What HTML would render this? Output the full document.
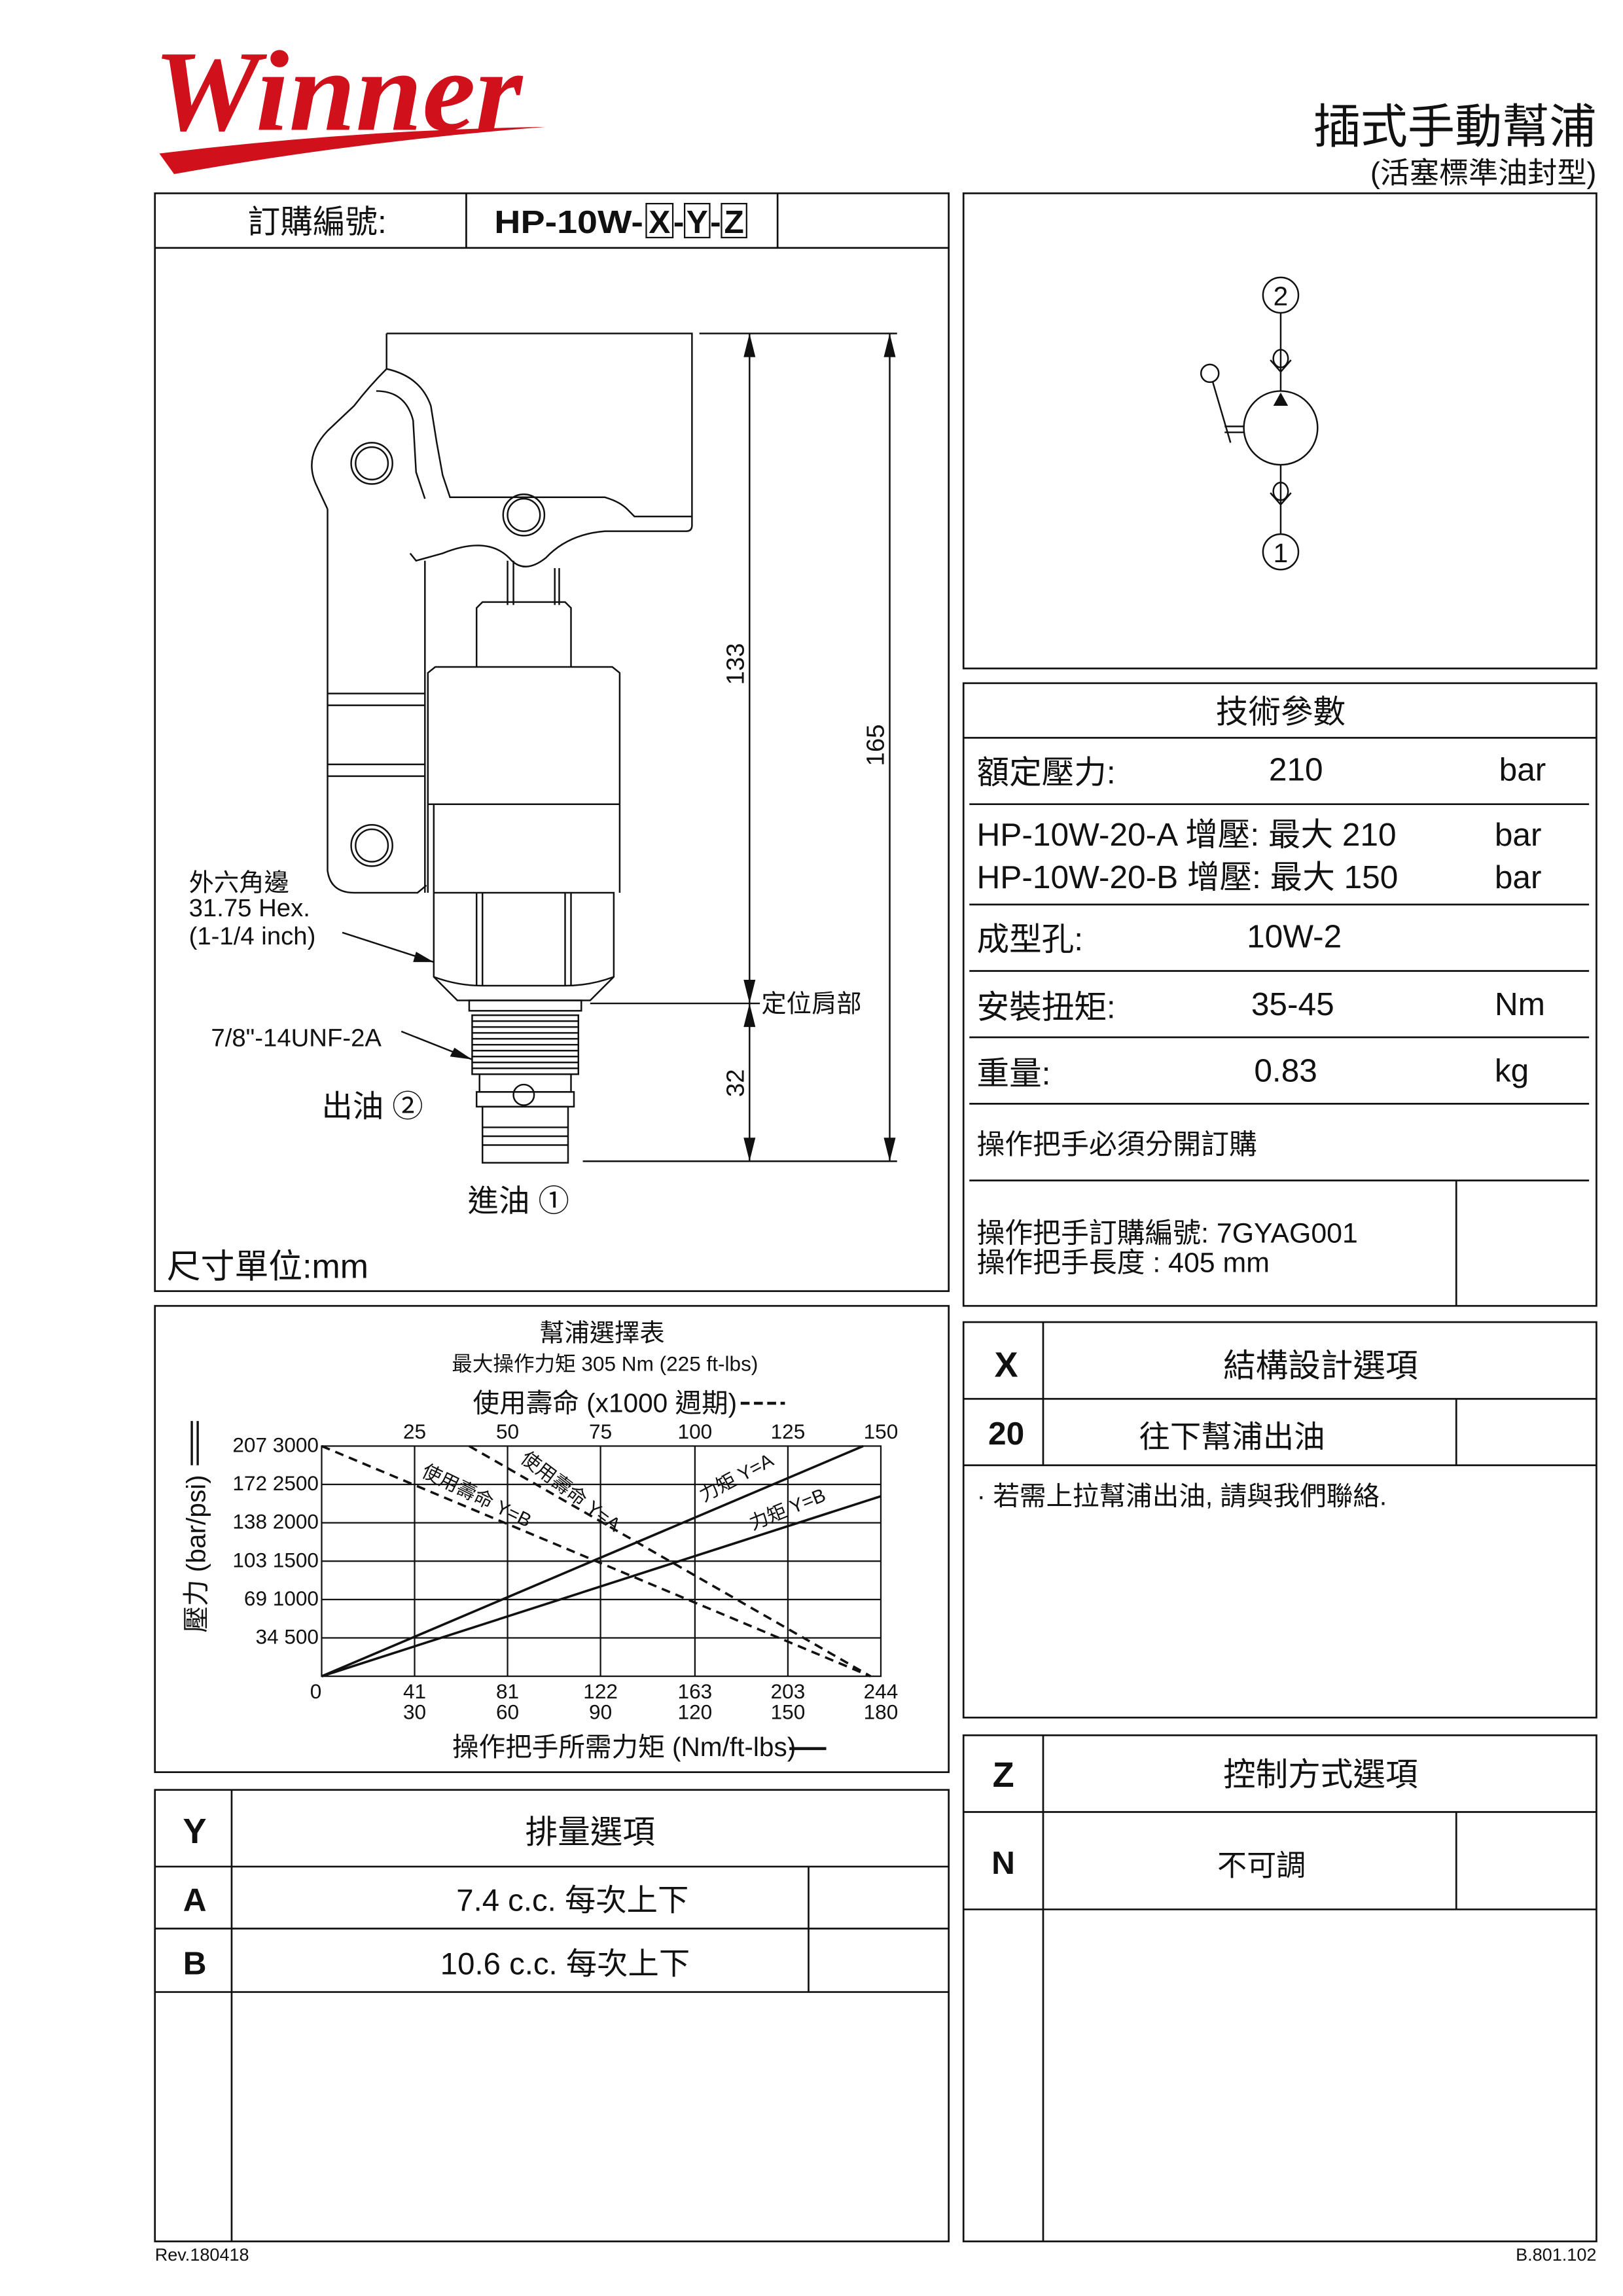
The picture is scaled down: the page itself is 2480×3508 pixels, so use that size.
<!DOCTYPE html>
<html><head><meta charset="utf-8"><style>
html,body{margin:0;padding:0;background:#fff}
svg{display:block}
text{font-family:"Liberation Sans","Noto Sans CJK TC",sans-serif;fill:#111}
</style></head><body>
<svg width="2480" height="3508" viewBox="0 0 1100 1556" preserveAspectRatio="none" xmlns="http://www.w3.org/2000/svg">
<!-- Logo -->
<text x="104" y="88" style="font-family:'Liberation Serif',serif;font-style:italic;font-weight:bold;fill:#d0101b" font-size="78" textLength="250" lengthAdjust="spacingAndGlyphs">Winner</text>
<path d="M108,104 Q240,88 370,86 Q240,96 118,118 Z" fill="#d0101b"/>
<!-- Title -->
<text x="1082" y="97" text-anchor="end" font-size="32">插式手動幫浦</text>
<text x="1082" y="124" text-anchor="end" font-size="20">(活塞標準油封型)</text>

<g fill="none" stroke="#111" stroke-width="1.2">
<rect x="105" y="131" width="538" height="744"/>
<line x1="105" y1="168" x2="643" y2="168"/>
<line x1="316" y1="131" x2="316" y2="168"/>
<line x1="527" y1="131" x2="527" y2="168"/>
<rect x="653" y="131" width="429" height="322"/>
<rect x="653" y="463" width="429" height="422"/>
<line x1="653" y1="500" x2="1082" y2="500"/>
<line x1="657" y1="545" x2="1077" y2="545"/>
<line x1="657" y1="613" x2="1077" y2="613"/>
<line x1="657" y1="658" x2="1077" y2="658"/>
<line x1="657" y1="703" x2="1077" y2="703"/>
<line x1="657" y1="748" x2="1077" y2="748"/>
<line x1="657" y1="800" x2="1077" y2="800"/>
<line x1="987" y1="800" x2="987" y2="885"/>
<rect x="653" y="896" width="429" height="268"/>
<line x1="653" y1="948" x2="1082" y2="948"/>
<line x1="653" y1="993" x2="1082" y2="993"/>
<line x1="707" y1="896" x2="707" y2="993"/>
<line x1="987" y1="948" x2="987" y2="993"/>
<rect x="653" y="1176" width="429" height="343"/>
<line x1="653" y1="1228" x2="1082" y2="1228"/>
<line x1="653" y1="1294" x2="1082" y2="1294"/>
<line x1="707" y1="1176" x2="707" y2="1519"/>
<line x1="987" y1="1228" x2="987" y2="1294"/>
<rect x="105" y="885" width="538" height="316"/>
<rect x="105" y="1213" width="538" height="306"/>
<line x1="105" y1="1265" x2="643" y2="1265"/>
<line x1="105" y1="1307" x2="643" y2="1307"/>
<line x1="105" y1="1350" x2="643" y2="1350"/>
<line x1="157" y1="1213" x2="157" y2="1519"/>
<line x1="548" y1="1265" x2="548" y2="1350"/>
</g>

<text x="215" y="158" text-anchor="middle" font-size="22">訂購編號:</text>
<g font-size="22" font-weight="bold">
<text x="335" y="158" textLength="101" lengthAdjust="spacingAndGlyphs">HP-10W-</text>
<text x="447" y="158" text-anchor="middle">X</text>
<text x="460" y="158" text-anchor="middle">-</text>
<text x="472.5" y="158" text-anchor="middle">Y</text>
<text x="485" y="158" text-anchor="middle">-</text>
<text x="497.5" y="158" text-anchor="middle">Z</text>
</g>
<g fill="none" stroke="#111" stroke-width="1"><rect x="438" y="138" width="18" height="23"/><rect x="464" y="138" width="17" height="23"/><rect x="489" y="138" width="17" height="23"/></g>

<!-- Drawing -->
<g fill="none" stroke="#111" stroke-width="1.1">
<path d="M262,226 L469,226 L469,356 Q469,360 465,360 L410,360 Q385,362 370,378 Q355,390 345,378 Q330,363 300,375 L282,380 L278,375"/>
<path d="M262,226 L262,250 Q250,262 240,275 L222,292 Q205,310 215,330 L222,345"/>
<path d="M262,250 Q285,255 292,275 L296,300 L300,322 L305,337 L350,337 L410,337 Q420,340 425,345 L430,350 L469,350"/>
<path d="M255,265 Q275,265 280,285 L282,320 L288,338"/>
<path d="M222,345 L222,590 Q224,605 240,605 L283,605 L289,600"/>
<line x1="222" y1="470" x2="288" y2="470"/>
<line x1="222" y1="478" x2="288" y2="478"/>
<line x1="222" y1="518" x2="288" y2="518"/>
<line x1="222" y1="526" x2="288" y2="526"/>
<line x1="288" y1="380" x2="288" y2="605"/>
<circle cx="252" cy="314" r="14"/><circle cx="252" cy="314" r="11"/>
<circle cx="252" cy="573" r="14"/><circle cx="252" cy="573" r="11"/>
<circle cx="355" cy="349" r="14"/><circle cx="355" cy="349" r="11"/>
<line x1="344" y1="380" x2="344" y2="410"/><line x1="348" y1="380" x2="348" y2="410"/>
<line x1="376" y1="385" x2="376" y2="410"/><line x1="379" y1="385" x2="379" y2="410"/>
<path d="M323,452 L323,412 L327,408 L383,408 L387,412 L387,452"/>
<path d="M290,605 L290,456 L295,452 L415,452 L420,456 L420,605"/>
<line x1="290" y1="545" x2="420" y2="545"/>
<line x1="294" y1="545" x2="294" y2="605"/>
<path d="M294,605 L416,605 L416,662 L400,678 L310,678 L294,662 Z"/>
<line x1="323" y1="605" x2="323" y2="668"/><line x1="327" y1="605" x2="327" y2="668"/>
<line x1="383" y1="605" x2="383" y2="668"/><line x1="387" y1="605" x2="387" y2="668"/>
<path d="M294,662 Q310,668 327,668 L383,668 Q400,668 416,662"/>
<rect x="318" y="678" width="76" height="7"/>
<path d="M320,688 L392,688 L392,728 L320,728 Z"/>
<path d="M320,692h72M320,696h72M320,700h72M320,704h72M320,708h72M320,712h72M320,716h72M320,720h72M320,724h72"/>
<rect x="325" y="728" width="62" height="12"/>
<rect x="323" y="740" width="66" height="10"/>
<circle cx="355" cy="742" r="7"/>
<rect x="327" y="750" width="58" height="38"/>
<path d="M327,764h58M327,770h58M327,776h58"/>
<line x1="474" y1="226" x2="608" y2="226"/>
<line x1="395" y1="787" x2="608" y2="787"/>
<line x1="400" y1="680" x2="515" y2="680"/>
<line x1="508" y1="226" x2="508" y2="787"/>
<line x1="603" y1="226" x2="603" y2="787"/>
<line x1="232" y1="632" x2="294" y2="652"/>
<line x1="272" y1="699" x2="320" y2="718"/>
</g>
<g fill="#111">
<path d="M508,226 l-4,16 h8z"/><path d="M508,680 l-4,-16 h8z"/><path d="M508,680 l-4,16 h8z"/><path d="M508,787 l-4,-16 h8z"/>
<path d="M603,226 l-4,16 h8z"/><path d="M603,787 l-4,-16 h8z"/>
<path d="M294,652 l-12,-7 l-2,7z"/><path d="M320,718 l-12,-8 l-3,6z"/>
</g>
<text transform="translate(504,450) rotate(-90)" text-anchor="middle" font-size="17">133</text>
<text transform="translate(599,505) rotate(-90)" text-anchor="middle" font-size="17">165</text>
<text transform="translate(504,734) rotate(-90)" text-anchor="middle" font-size="17">32</text>
<text x="516" y="686" font-size="17">定位肩部</text>
<text x="128" y="604" font-size="17">外六角邊</text>
<text x="128" y="621" font-size="17">31.75 Hex.</text>
<text x="128" y="640" font-size="17">(1-1/4 inch)</text>
<text x="143" y="709" font-size="17">7/8"-14UNF-2A</text>
<text x="218" y="757" font-size="21">出油 ②</text>
<text x="317" y="821" font-size="21">進油 ①</text>
<text x="113" y="866" font-size="23">尺寸單位:mm</text>

<!-- Symbol -->
<g fill="none" stroke="#111" stroke-width="1.1">
<circle cx="868" cy="200" r="12"/><circle cx="868" cy="374" r="12"/>
<line x1="868" y1="212" x2="868" y2="265"/>
<line x1="868" y1="315" x2="868" y2="362"/>
<ellipse cx="868" cy="243" rx="5" ry="6"/><path d="M861,244 L868,252 L875,244"/>
<ellipse cx="868" cy="333" rx="5" ry="6"/><path d="M861,334 L868,342 L875,334"/>
<circle cx="868" cy="290" r="25"/>
<ellipse cx="820" cy="253" rx="6" ry="6"/>
<line x1="822" y1="259" x2="834" y2="300"/>
<line x1="830" y1="289" x2="843" y2="289"/><line x1="830" y1="293" x2="843" y2="293"/>
</g>
<path d="M868,266 l-5,9 h10z" fill="#111"/>
<text x="868" y="207" text-anchor="middle" font-size="18">2</text>
<text x="868" y="381" text-anchor="middle" font-size="18">1</text>

<text x="868" y="490" text-anchor="middle" font-size="22">技術參數</text>
<g font-size="22">
<text x="662" y="531">額定壓力:</text><text x="860" y="529">210</text><text x="1016" y="529">bar</text>
<text x="662" y="573">HP-10W-20-A 增壓:  最大 210</text><text x="1013" y="573">bar</text>
<text x="662" y="602">HP-10W-20-B  增壓:  最大 150</text><text x="1013" y="602">bar</text>
<text x="662" y="644">成型孔:</text><text x="845" y="642">10W-2</text>
<text x="662" y="690">安裝扭矩:</text><text x="848" y="688">35-45</text><text x="1013" y="688">Nm</text>
<text x="662" y="735">重量:</text><text x="850" y="733">0.83</text><text x="1013" y="733">kg</text>
</g>
<text x="662" y="782" font-size="19">操作把手必須分開訂購</text>
<text x="662" y="842" font-size="19">操作把手訂購編號: 7GYAG001</text>
<text x="662" y="862" font-size="19">操作把手長度 : 405 mm</text>

<text x="682" y="933" text-anchor="middle" font-size="24" font-weight="bold">X</text>
<text x="895" y="933" text-anchor="middle" font-size="22">結構設計選項</text>
<text x="682" y="979" text-anchor="middle" font-size="22" font-weight="bold">20</text>
<text x="835" y="981" text-anchor="middle" font-size="21">往下幫浦出油</text>
<text x="662" y="1020" font-size="18">· 若需上拉幫浦出油, 請與我們聯絡.</text>
<text x="680" y="1211" text-anchor="middle" font-size="24" font-weight="bold">Z</text>
<text x="895" y="1210" text-anchor="middle" font-size="22">控制方式選項</text>
<text x="680" y="1270" text-anchor="middle" font-size="22" font-weight="bold">N</text>
<text x="855" y="1271" text-anchor="middle" font-size="20">不可調</text>
<text x="132" y="1249" text-anchor="middle" font-size="24" font-weight="bold">Y</text>
<text x="400" y="1249" text-anchor="middle" font-size="22">排量選項</text>
<text x="132" y="1295" text-anchor="middle" font-size="22" font-weight="bold">A</text>
<text x="388" y="1295" text-anchor="middle" font-size="21">7.4 c.c.  每次上下</text>
<text x="132" y="1338" text-anchor="middle" font-size="22" font-weight="bold">B</text>
<text x="383" y="1338" text-anchor="middle" font-size="21">10.6 c.c.  每次上下</text>

<!-- Chart -->
<g stroke="#111" stroke-width="1" fill="none">
<rect x="218" y="980" width="379" height="156"/>
<path d="M218,1006h379M218,1032h379M218,1058h379M218,1084h379M218,1110h379"/>
<path d="M281,980v156M344,980v156M407,980v156M471,980v156M534,980v156"/>
<line x1="218" y1="1136" x2="585" y2="980" stroke-width="1.6"/>
<line x1="218" y1="1136" x2="597" y2="1014" stroke-width="1.6"/>
<line x1="218" y1="980" x2="590" y2="1136" stroke-width="1.6" stroke-dasharray="6,4"/>
<line x1="318" y1="980" x2="590" y2="1136" stroke-width="1.6" stroke-dasharray="6,4"/>
<path d="M502,951h30" stroke-width="2" stroke-dasharray="6,3"/>
<path d="M535,1185h25" stroke-width="2"/>
<path d="M130,963v30M134,963v30" stroke-width="1.5"/>
</g>
<text x="408" y="909" text-anchor="middle" font-size="17">幫浦選擇表</text>
<text x="410" y="929" text-anchor="middle" font-size="14">最大操作力矩 305 Nm (225 ft-lbs)</text>
<text x="410" y="957" text-anchor="middle" font-size="18">使用壽命 (x1000 週期)</text>
<g font-size="14" text-anchor="middle">
<text x="281" y="975">25</text><text x="344" y="975">50</text><text x="407" y="975">75</text><text x="471" y="975">100</text><text x="534" y="975">125</text><text x="597" y="975">150</text>
<text x="214" y="1151">0</text>
<text x="281" y="1151">41</text><text x="344" y="1151">81</text><text x="407" y="1151">122</text><text x="471" y="1151">163</text><text x="534" y="1151">203</text><text x="597" y="1151">244</text>
<text x="281" y="1165">30</text><text x="344" y="1165">60</text><text x="407" y="1165">90</text><text x="471" y="1165">120</text><text x="534" y="1165">150</text><text x="597" y="1165">180</text>
</g>
<g font-size="14" text-anchor="end">
<text x="216" y="984">207 3000</text><text x="216" y="1010">172 2500</text><text x="216" y="1036">138 2000</text><text x="216" y="1062">103 1500</text><text x="216" y="1088">69 1000</text><text x="216" y="1114">34  500</text>
</g>
<text transform="translate(139,1053) rotate(-90)" text-anchor="middle" font-size="18">壓力 (bar/psi)</text>
<text x="423" y="1190" text-anchor="middle" font-size="18">操作把手所需力矩 (Nm/ft-lbs)</text>
<text transform="translate(285,1000) rotate(26)" font-size="13">使用壽命 Y=B</text>
<text transform="translate(352,990) rotate(37)" font-size="13">使用壽命 Y=A</text>
<text transform="translate(477,1018) rotate(-28)" font-size="13">力矩 Y=A</text>
<text transform="translate(510,1037) rotate(-22)" font-size="13">力矩 Y=B</text>

<text x="105" y="1532" font-size="12">Rev.180418</text>
<text x="1082" y="1532" text-anchor="end" font-size="12">B.801.102</text>
</svg>
</body></html>
